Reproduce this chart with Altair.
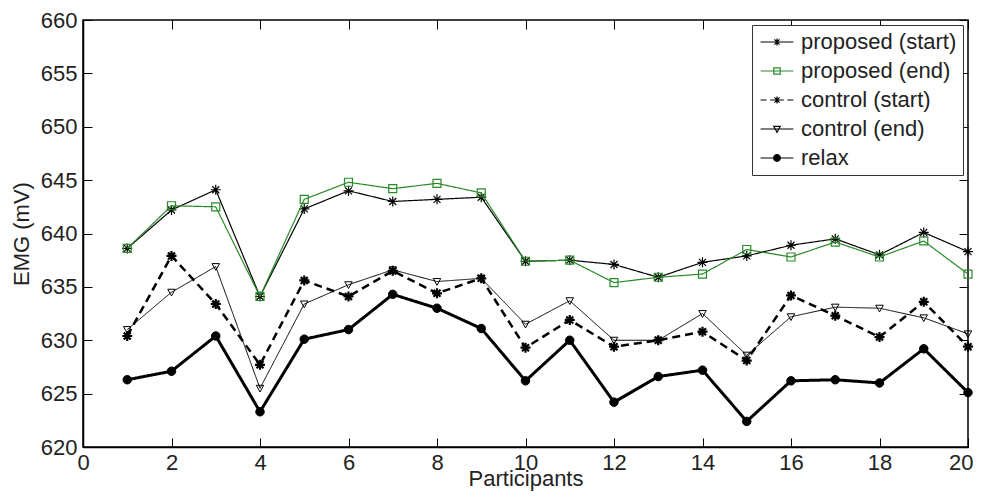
import altair as alt
import pandas as pd

participants = list(range(1, 21))
series_names = ["proposed (start)", "proposed (end)", "control (start)", "control (end)", "relax"]

proposed_start = [638.6, 642.2, 644.1, 634.1, 642.3, 644.0, 643.0, 643.2, 643.4, 637.4,
                  637.5, 637.1, 635.9, 637.3, 637.9, 638.9, 639.5, 638.0, 640.1, 638.3]
proposed_end = [638.6, 642.6, 642.5, 634.1, 643.2, 644.8, 644.2, 644.7, 643.8, 637.4,
                637.5, 635.4, 635.9, 636.2, 638.5, 637.8, 639.2, 637.8, 639.3, 636.2]
control_start = [630.4, 637.9, 633.4, 627.7, 635.6, 634.1, 636.5, 634.4, 635.8, 629.3,
                 631.9, 629.4, 630.0, 630.8, 628.1, 634.2, 632.3, 630.3, 633.6, 629.4]
control_end = [631.0, 634.5, 636.9, 625.5, 633.4, 635.2, 636.6, 635.5, 635.8, 631.5,
               633.7, 630.0, 630.0, 632.5, 628.6, 632.2, 633.1, 633.0, 632.1, 630.6]
relax = [626.3, 627.1, 630.4, 623.3, 630.1, 631.0, 634.3, 633.0, 631.1, 626.2,
         630.0, 624.2, 626.6, 627.2, 622.4, 626.2, 626.3, 626.0, 629.2, 625.1]

x_ticks = list(range(0, 21, 2))
y_ticks = list(range(620, 661, 5))

values = [proposed_start, proposed_end, control_start, control_end, relax]
rows = []
for name, vals in zip(series_names, values):
    for p, v in zip(participants, vals):
        rows.append({"participant": p, "emg": v, "series": name})
df = pd.DataFrame(rows)

GREEN = "#2a8a2a"
W, H = 885, 427

ASTER = "M-1,0H1M0,-1V1M-0.7,-0.7L0.7,0.7M-0.7,0.7L0.7,-0.7"
SQUARE = "M-1,-1H1V1H-1Z"
TRI = "M-1,-0.8H1L0,1Z"
CIRCLE = "M1,0A1,1 0 1,1 -1,0A1,1 0 1,1 1,0Z"
styles = {
    "proposed (start)": dict(color="black", sw=1.2, dash=[1, 0], shape=ASTER, size=100, fill=False, msw=1.2),
    "proposed (end)": dict(color=GREEN, sw=1.2, dash=[1, 0], shape=SQUARE, size=64, fill=False, msw=1.2),
    "control (start)": dict(color="black", sw=2.5, dash=[8, 5], shape=ASTER, size=100, fill=False, msw=2.2),
    "control (end)": dict(color="black", sw=1.0, dash=[1, 0], shape=TRI, size=56, fill=False, msw=1.0),
    "relax": dict(color="black", sw=3.0, dash=[1, 0], shape=CIRCLE, size=72, fill=True, msw=1.0),
}

xscale = alt.Scale(domain=[0, 20], nice=False, zero=False)
yscale = alt.Scale(domain=[620, 660], nice=False, zero=False)

x_axis = alt.Axis(values=x_ticks, format="d", title="Participants", ticks=False, tickSize=0,
                  labelPadding=5, labelFontSize=22, titleFontSize=22, titleFontWeight="normal",
                  titlePadding=-5, grid=True, gridDash=[9, H - 18, 9], gridColor="black",
                  gridOpacity=1, gridWidth=1, domainColor="black", domainWidth=1.5,
                  labelColor="#222", titleColor="#222", labelFlush=False,
                  labelAlign={"condition": {"test": "datum.value == 20", "value": "right"}, "value": "center"},
                  labelOffset={"condition": {"test": "datum.value == 20", "value": 5}, "value": 0})
y_axis = alt.Axis(values=y_ticks, format="d", title="EMG (mV)", ticks=False, tickSize=0,
                  labelPadding=6, labelFontSize=22, titleFontSize=22, titleFontWeight="normal",
                  titlePadding=7, grid=True, gridDash=[9, W - 18, 9], gridColor="black",
                  gridOpacity=1, gridWidth=1, domainColor="black", domainWidth=1.5,
                  labelColor="#222", titleColor="#222", labelFlush=False)

X = alt.X("participant:Q", scale=xscale, axis=x_axis)
Y = alt.Y("emg:Q", scale=yscale, axis=y_axis)

base = alt.Chart(df)
layers = []
for name in series_names:
    s = styles[name]
    line = base.transform_filter(alt.datum.series == name).mark_line(
        color=s["color"], strokeWidth=s["sw"], strokeDash=s["dash"]
    ).encode(x=X, y=Y)
    pts = base.transform_filter(alt.datum.series == name).mark_point(
        shape=s["shape"], size=s["size"], stroke=s["color"], strokeWidth=s["msw"],
        fill=s["color"] if s["fill"] else "transparent", filled=s["fill"], opacity=1,
    ).encode(x=X, y=Y)
    layers += [line, pts]

LEG_ASTER = "M-0.45,0H0.45M0,-0.45V0.45M-0.32,-0.32L0.32,0.32M-0.32,0.32L0.32,-0.32"
leg_paths = [
    "M-2.05,0H2.05" + LEG_ASTER,
    "M-2.05,0H2.05M-0.4,-0.4H0.4V0.4H-0.4Z",
    "M-2.05,0H-1.3M-0.85,0H0.85M1.3,0H2.05" + LEG_ASTER,
    "M-2.05,0H2.05M-0.4,-0.32H0.4L0,0.4Z",
    "M-2.05,0H2.05M0.42,0A0.42,0.42 0 1,1 -0.42,0A0.42,0.42 0 1,1 0.42,0Z",
]
leg_colors = ["black", GREEN, "black", "black", "black"]
leg_fills = ["transparent", "transparent", "transparent", "transparent", "black"]
leg_widths = [1.2, 1.2, 2.5, 1.0, 3.0]

legend = alt.Legend(title=None, orient="top-right", offset=5, padding=6, symbolOffset=8,
                    labelOffset=13, symbolSize=256, symbolOpacity=1, labelFontSize=22,
                    labelColor="#222", labelLimit=400, rowPadding=7, strokeColor="#333",
                    fillColor="white", cornerRadius=0)

legend_layer = base.mark_point(opacity=0).encode(
    x=X, y=Y,
    stroke=alt.Stroke("series:N", scale=alt.Scale(domain=series_names, range=leg_colors), legend=legend),
    fill=alt.Fill("series:N", scale=alt.Scale(domain=series_names, range=leg_fills), legend=legend),
    shape=alt.Shape("series:N", scale=alt.Scale(domain=series_names, range=leg_paths), legend=legend),
    strokeWidth=alt.StrokeWidth("series:N", scale=alt.Scale(domain=series_names, range=leg_widths), legend=legend),
)

chart = alt.layer(*layers, legend_layer).properties(
    width=W, height=H,
    padding={"left": 75, "top": 12, "right": 6, "bottom": 45},
    autosize=alt.AutoSizeParams(type="none"),
    background="white",
).configure(font="Liberation Sans").configure_view(stroke="black", strokeWidth=1.5)

chart.save("out.html", embed_options={"renderer": "svg", "actions": False})
